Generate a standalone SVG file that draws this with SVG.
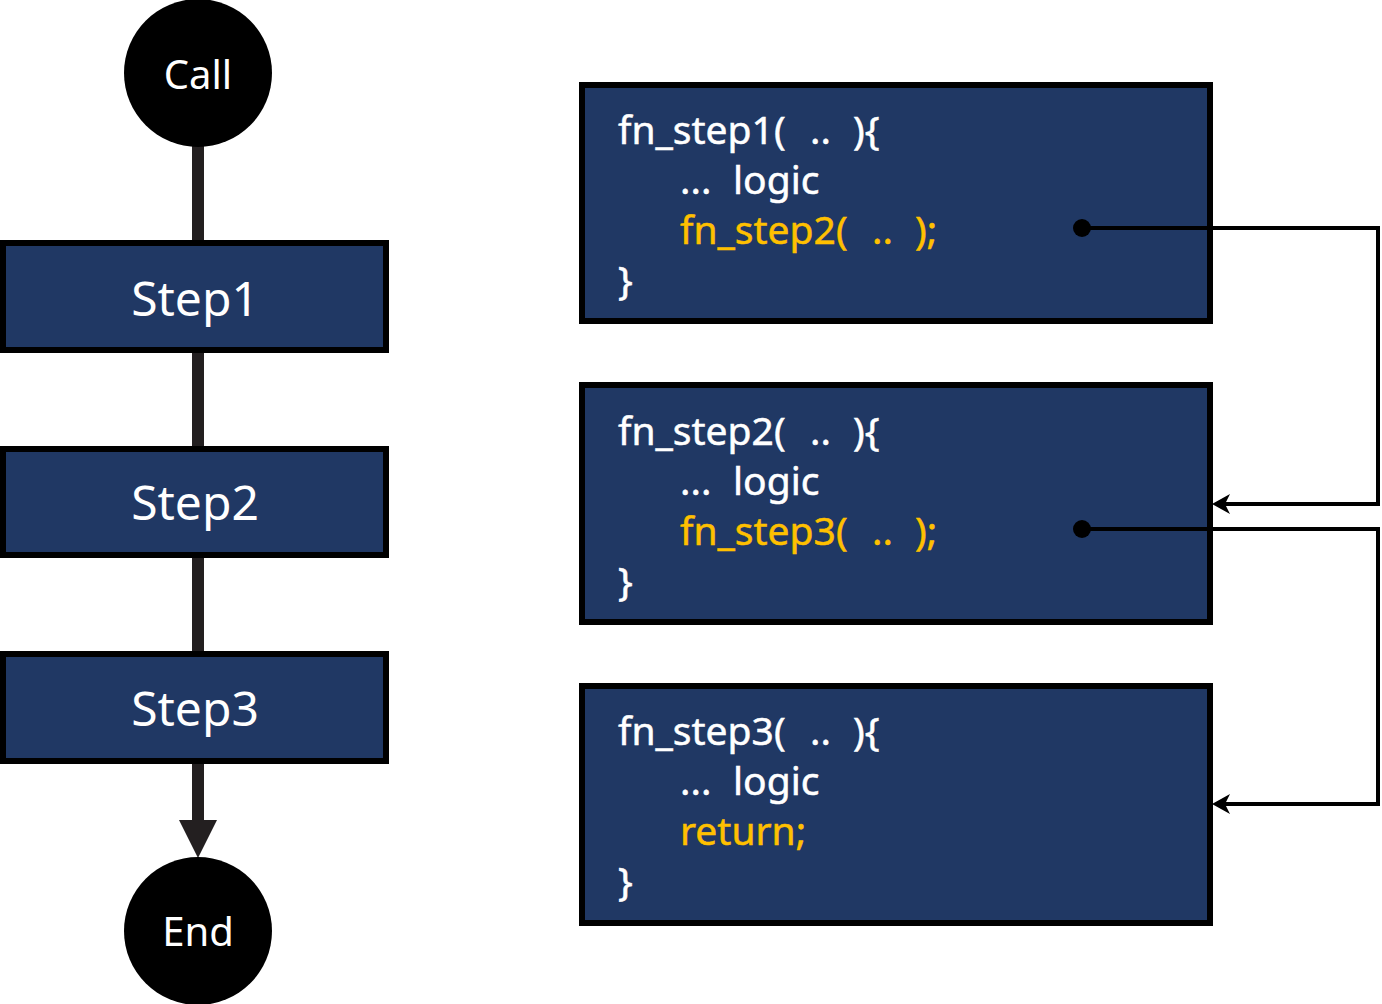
<svg xmlns="http://www.w3.org/2000/svg" width="1382" height="1004" viewBox="0 0 1382 1004">
<style>
.box{fill:#203864;stroke:#000;stroke-width:6}
.term{fill:#000}
.lbl{font-family:"Noto Sans","Open Sans",sans-serif;fill:#fff;text-anchor:middle}
.code{font-family:"Noto Sans","Open Sans",sans-serif;font-size:39px;fill:#fff;stroke:#fff;stroke-width:0.5}
.y{fill:#FFC000;stroke:#FFC000}
.flow{stroke:#231f20;stroke-width:12;fill:none}
.call{stroke:#000;stroke-width:4;fill:none}
.head{fill:#000}
</style>
<g id="connectors">
<line class="flow" x1="198" y1="140" x2="198" y2="244"/>
<line class="flow" x1="198" y1="350" x2="198" y2="450"/>
<line class="flow" x1="198" y1="555" x2="198" y2="655"/>
<line class="flow" x1="198" y1="760" x2="198" y2="822"/>
<polygon points="179,820 217,820 198,858" fill="#231f20"/>
</g>
<g id="call"><circle class="term" cx="198" cy="73" r="74"/><text class="lbl" x="198" y="89" font-size="40">Call</text></g>
<g id="step1"><rect class="box" x="3" y="243" width="383" height="107"/><text class="lbl" x="195" y="316" font-size="48">Step1</text></g>
<g id="step2"><rect class="box" x="3" y="449" width="383" height="106"/><text class="lbl" x="195" y="520" font-size="48">Step2</text></g>
<g id="step3"><rect class="box" x="3" y="654" width="383" height="107"/><text class="lbl" x="195" y="726" font-size="48">Step3</text></g>
<g id="end"><circle class="term" cx="198" cy="931" r="74"/><text class="lbl" x="198" y="946" font-size="40">End</text></g>
<g id="fn1"><rect class="box" x="582" y="85" width="628" height="236"/>
<text class="code" x="618" y="144">fn_step1(<tspan x="810">..</tspan><tspan x="853">){</tspan></text>
<text class="code" x="680" y="194">...<tspan x="733">logic</tspan></text>
<text class="code y" x="680" y="244">fn_step2(<tspan x="872">..</tspan><tspan x="915">);</tspan></text>
<text class="code" x="618" y="294">}</text></g>
<g id="fn2"><rect class="box" x="582" y="385" width="628" height="237"/>
<text class="code" x="618" y="445">fn_step2(<tspan x="810">..</tspan><tspan x="853">){</tspan></text>
<text class="code" x="680" y="495">...<tspan x="733">logic</tspan></text>
<text class="code y" x="680" y="545">fn_step3(<tspan x="872">..</tspan><tspan x="915">);</tspan></text>
<text class="code" x="618" y="595">}</text></g>
<g id="fn3"><rect class="box" x="582" y="686" width="628" height="237"/>
<text class="code" x="618" y="745">fn_step3(<tspan x="810">..</tspan><tspan x="853">){</tspan></text>
<text class="code" x="680" y="795">...<tspan x="733">logic</tspan></text>
<text class="code y" x="680" y="845">return;</text>
<text class="code" x="618" y="895">}</text></g>
<g id="calls">
<circle cx="1082" cy="228" r="9" fill="#000"/>
<polyline class="call" points="1082,228 1378,228 1378,504 1224,504"/>
<polygon class="head" points="1212,504 1230,494 1225,504 1230,514"/>
<circle cx="1082" cy="529" r="9" fill="#000"/>
<polyline class="call" points="1082,529 1378,529 1378,804 1224,804"/>
<polygon class="head" points="1212,804 1230,794 1225,804 1230,814"/>
</g>
</svg>
